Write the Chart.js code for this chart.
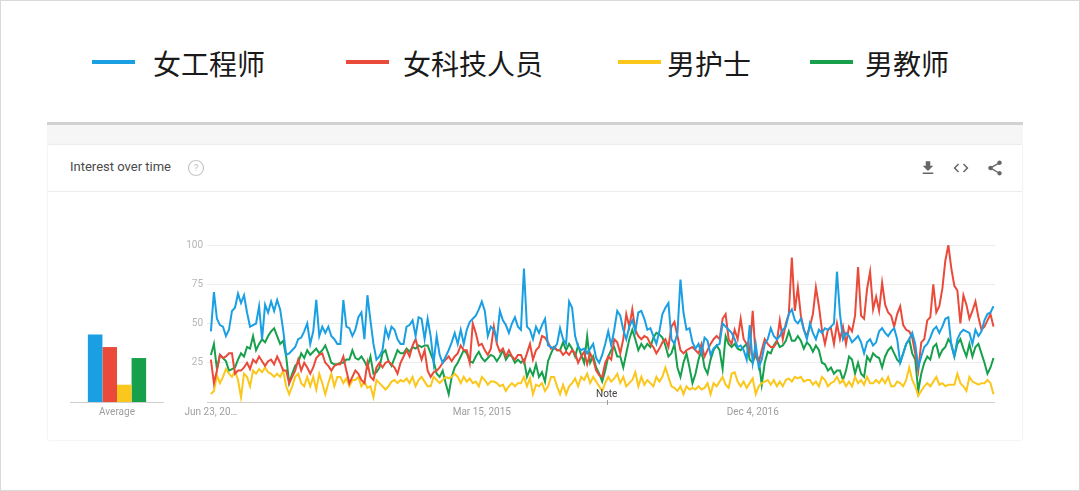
<!DOCTYPE html>
<html>
<head>
<meta charset="utf-8">
<script src="https://cdn.jsdelivr.net/npm/chart.js@4.4.1/dist/chart.umd.min.js"></script>
<style>
html, body { margin: 0; padding: 0; }
body { width: 1080px; height: 491px; position: relative; overflow: hidden; background: #fff; font-family: Roboto, "Noto Sans", sans-serif; }
.frame { position: absolute; left: 0; top: 0; width: 1078px; height: 489px; border: 1px solid #d9d9d9; }
.key { position: absolute; top: 43px; height: 40px; line-height: 40px; font-family: "Noto Sans CJK SC", sans-serif; font-size: 28px; color: #1a1a1a; white-space: nowrap; }
.swatch { position: absolute; top: 60px; width: 43px; height: 4px; }
.topline { position: absolute; left: 47px; top: 122px; width: 976px; height: 3px; background: #d2d2d2; }
.band { position: absolute; left: 47px; top: 125px; width: 976px; height: 20px; background: #f6f6f6; }
.card { position: absolute; left: 48px; top: 145px; width: 974px; height: 295px; background: #fff; box-shadow: 0 0 2px rgba(0,0,0,0.12); }
.head { position: absolute; left: 0; top: 0; width: 974px; height: 46px; border-bottom: 1px solid #ececec; }
.title { position: absolute; left: 22px; top: 14px; font-size: 13px; color: #4a4a4a; }
.icon { position: absolute; top: 14px; width: 18px; height: 18px; }
canvas { position: absolute; }
</style>
</head>
<body>
<div class="frame"></div>

<div class="swatch" style="left:92px;background:#1a9fe3"></div>
<div class="key" style="left:153px">女工程师</div>
<div class="swatch" style="left:346px;background:#ea4a3a"></div>
<div class="key" style="left:403px">女科技人员</div>
<div class="swatch" style="left:618px;background:#fbc71c"></div>
<div class="key" style="left:667px">男护士</div>
<div class="swatch" style="left:810px;background:#17a04c"></div>
<div class="key" style="left:865px">男教师</div>

<div class="topline"></div>
<div class="band"></div>
<div class="card">
  <div class="head">
    <div class="title">Interest over time</div>
    <svg class="icon" style="left:139px;top:14px" viewBox="0 0 24 24">
      <circle cx="12" cy="12" r="10" fill="none" stroke="#c8c8c8" stroke-width="1.6"/>
      <text x="12" y="16.5" text-anchor="middle" font-size="13" font-family="Roboto" fill="#c0c0c0">?</text>
    </svg>
    <svg class="icon" style="left:871px" viewBox="0 0 24 24"><path fill="#666" d="M19 9h-4V3H9v6H5l7 7 7-7zM5 18v2h14v-2H5z"/></svg>
    <svg class="icon" style="left:904px" viewBox="0 0 24 24"><path fill="#666" d="M9.4 16.6L4.8 12l4.6-4.6L8 6l-6 6 6 6 1.4-1.4zm5.2 0l4.6-4.6-4.6-4.6L16 6l6 6-6 6-1.4-1.4z"/></svg>
    <svg class="icon" style="left:938px" viewBox="0 0 24 24"><path fill="#666" d="M18 16.08c-.76 0-1.44.3-1.96.77L8.91 12.7c.05-.23.09-.46.09-.7s-.04-.47-.09-.7l7.05-4.11c.54.5 1.25.81 2.04.81 1.66 0 3-1.34 3-3s-1.34-3-3-3-3 1.34-3 3c0 .24.04.47.09.7L8.04 9.81C7.5 9.31 6.79 9 6 9c-1.66 0-3 1.34-3 3s1.34 3 3 3c.79 0 1.5-.31 2.04-.81l7.12 4.16c-.05.21-.08.43-.08.65 0 1.61 1.31 2.92 2.92 2.92 1.61 0 2.92-1.31 2.92-2.92s-1.31-2.92-2.92-2.92z"/></svg>
  </div>
</div>

<canvas id="avg" width="94" height="195" style="left:70px;top:235px"></canvas>
<canvas id="trend" width="835" height="195" style="left:160px;top:235px"></canvas>

<script>
// series names and colours (same order everywhere)
var names = ['女工程师', '女科技人员', '男护士', '男教师'];
var colors = ['#1a9fe3', '#ea4a3a', '#fbc71c', '#17a04c'];

var averages = [43, 35, 11, 28];

// x axis: weeks counted from Jun 23, 2013
var tickWeeks = [0, 90, 180];
var tickLabels = ['Jun 23, 20…', 'Mar 15, 2015', 'Dec 4, 2016'];
var yTicks = [0, 25, 50, 75, 100];
var noteWeek = 131.5;

// weekly interest values, one per week (261 weeks)
var engineer = [
  45,70,53,49,48,42,46,58,60,69, 63,68,57,48,49,50,61,40,62,57,
  64,58,65,59,46,30,31,33,35,40, 41,45,50,37,45,65,42,48,44,48,
  42,40,37,37,65,48,47,42,46,54, 57,40,68,52,37,27,29,33,47,41,
  48,46,40,37,37,48,49,52,42,54, 53,40,53,42,25,42,30,25,29,33,
  38,44,37,46,37,46,51,53,55,59, 64,58,42,48,46,40,58,52,49,44,
  50,54,48,46,85,48,46,40,48,44, 49,53,36,35,34,37,47,40,37,64,
  60,42,35,33,34,31,34,37,28,25, 30,37,45,36,46,58,55,46,40,48,
  52,45,57,58,53,46,47,42,37,45, 56,60,63,40,37,44,78,57,46,47,
  38,34,37,31,41,39,30,34,36,37, 50,48,46,44,40,35,36,33,27,49,
  25,37,22,27,37,40,47,42,40,42, 46,48,56,59,52,50,53,46,40,50,
  44,40,46,44,47,46,48,50,83,56, 40,44,42,38,40,42,38,31,38,40,
  36,38,45,47,44,42,45,47,40,25, 31,37,40,44,37,22,29,35,37,41,
  46,48,44,48,53,54,36,29,40,44, 46,45,44,37,46,42,45,52,56,57,
  61
];
var scientist = [
  27,12,20,30,28,29,31,31,18,20, 20,22,25,21,27,25,29,26,23,26,
  27,24,29,25,20,20,12,16,20,27, 20,25,22,18,22,28,30,31,25,23,
  20,23,24,24,29,20,12,16,20,18, 14,12,25,16,14,22,25,22,25,26,
  24,22,18,25,29,33,29,36,40,33, 27,33,20,16,19,20,22,25,27,29,
  26,29,31,36,33,33,25,50,44,36, 37,33,30,34,48,37,32,34,29,33,
  29,27,30,30,25,31,37,27,33,35, 42,41,38,34,35,33,33,30,32,30,
  33,31,25,29,32,24,31,27,20,17, 16,25,29,27,40,38,31,40,56,48,
  59,46,42,40,42,41,37,35,31,34, 38,40,35,48,51,42,33,31,33,34,
  35,33,31,37,29,33,37,40,42,40, 53,56,40,37,46,40,53,40,37,32,
  58,29,25,33,40,37,35,35,38,52, 40,50,56,92,58,73,55,46,42,48,
  56,73,61,46,37,46,47,37,50,40, 48,37,48,45,55,86,55,53,72,83,
  59,67,58,76,62,57,55,48,56,61, 49,46,45,41,31,20,38,40,52,54,
  75,57,61,72,90,100,85,74,71,50, 68,62,53,58,64,54,46,48,52,56,
  48
];
var nurse = [
  5,7,17,12,16,21,18,16,20,14, 3,18,16,10,20,18,21,19,22,19,
  18,16,18,16,20,10,5,10,16,18, 12,10,16,10,16,8,18,12,5,12,
  18,10,16,16,12,15,10,14,14,16, 10,13,9,10,3,14,12,10,8,10,
  13,14,12,14,13,15,12,16,10,14, 16,13,10,10,16,14,12,14,16,15,
  16,18,16,12,16,13,15,12,13,10, 16,14,11,13,13,12,10,11,7,10,
  12,10,12,12,16,10,15,5,11,10, 12,7,10,16,16,10,5,11,5,10,
  12,15,10,16,14,18,12,16,13,10, 7,12,16,13,15,18,12,16,10,12,
  14,19,10,16,11,14,12,10,16,13, 16,22,16,10,9,7,10,5,10,8,
  9,8,10,8,9,12,5,12,10,13, 16,11,9,18,19,13,10,13,9,12,
  15,5,10,12,13,14,11,14,10,13, 10,14,15,13,16,15,16,13,14,14,
  11,13,10,16,14,10,12,13,16,12, 14,10,13,10,16,12,14,11,16,12,
  12,14,12,15,12,16,10,10,13,12, 10,14,22,14,10,4,7,10,12,10,
  13,16,11,12,10,11,11,11,18,12, 10,7,16,13,12,11,12,12,14,12,
  5
];
var teacher = [
  30,37,21,30,28,26,20,21,22,27, 31,29,35,34,42,33,37,40,38,42,
  45,47,42,37,39,29,12,18,23,25, 31,28,33,30,32,34,31,33,36,31,
  25,24,24,25,25,27,27,33,28,27, 29,26,22,29,18,19,22,31,33,26,
  23,28,33,31,31,34,32,35,34,36, 35,36,36,31,26,18,16,20,12,5,
  16,22,25,29,33,31,26,25,29,32, 28,26,28,30,29,26,29,33,27,30,
  29,25,27,25,27,16,21,17,24,16, 19,13,26,31,35,33,33,38,33,37,
  34,29,36,30,25,42,25,29,22,18, 13,20,29,33,35,29,29,22,31,40,
  46,40,33,37,34,37,35,41,44,43, 41,36,29,31,37,22,16,25,31,22,
  12,18,27,33,22,18,27,33,36,33, 21,42,37,35,37,34,33,35,37,27,
  25,31,27,11,25,32,31,36,39,35, 36,39,45,39,39,42,39,34,38,36,
  32,36,33,25,24,20,22,18,20,20, 14,20,29,27,18,25,18,16,29,26,
  31,29,28,22,29,33,35,31,27,25, 31,37,40,31,27,7,18,25,29,27,
  35,37,29,33,35,40,37,29,37,40, 34,29,37,29,35,37,31,25,18,22,
  28
];

var series = [engineer, scientist, nurse, teacher];

function toPoints(arr) {
  return arr.map(function (v, i) { return { x: i, y: v }; });
}

var tickFont = { family: 'Roboto', size: 10 };

// small "Average" bar chart on the left
new Chart(document.getElementById('avg'), {
  type: 'bar',
  data: {
    labels: ['Average'],
    datasets: names.map(function (n, i) {
      return { label: n, data: [averages[i]], backgroundColor: colors[i], borderWidth: 0,
               categoryPercentage: 0.62, barPercentage: 1 };
    })
  },
  options: {
    responsive: false,
    animation: false,
    layout: { padding: { top: 10 } },
    plugins: { legend: { display: false }, tooltip: { enabled: false } },
    scales: {
      x: {
        afterFit: function (s) { s.height = 28; },
        grid: { display: false, drawTicks: false },
        border: { color: '#cfcfcf' },
        ticks: { padding: 4, color: '#9e9e9e', font: tickFont }
      },
      y: { display: false, min: 0, max: 100 }
    }
  }
});

// the "Note" marker Google Trends puts on the time axis
var notePlugin = {
  id: 'note',
  afterDatasetsDraw: function (chart) {
    var ctx = chart.ctx;
    var x = chart.scales.x.getPixelForValue(noteWeek);
    var y0 = chart.scales.y.getPixelForValue(0);
    ctx.save();
    ctx.strokeStyle = '#9e9e9e';
    ctx.lineWidth = 1;
    ctx.beginPath();
    ctx.moveTo(Math.round(x) + 0.5, y0 - 2);
    ctx.lineTo(Math.round(x) + 0.5, y0 + 3);
    ctx.stroke();
    ctx.fillStyle = '#444';
    ctx.font = '10px Roboto';
    ctx.textAlign = 'center';
    ctx.textBaseline = 'bottom';
    ctx.fillText('Note', x, y0 - 3);
    ctx.restore();
  }
};

new Chart(document.getElementById('trend'), {
  type: 'line',
  data: {
    datasets: names.map(function (n, i) {
      return { label: n, data: toPoints(series[i]), borderColor: colors[i], borderWidth: 2,
               pointRadius: 0, tension: 0, fill: false };
    })
  },
  options: {
    responsive: false,
    animation: false,
    layout: { padding: { top: 10 } },
    plugins: { legend: { display: false }, tooltip: { enabled: false } },
    scales: {
      x: {
        type: 'linear',
        min: -1.3,
        max: 260.5,
        afterBuildTicks: function (s) { s.ticks = tickWeeks.map(function (v) { return { value: v }; }); },
        afterFit: function (s) { s.height = 28; },
        grid: { display: false, drawTicks: false },
        border: { display: false },
        ticks: {
          padding: 4, color: '#9e9e9e', font: tickFont, maxRotation: 0, autoSkip: false,
          callback: function (v, i) { return tickLabels[i]; }
        }
      },
      y: {
        min: 0,
        max: 100,
        afterBuildTicks: function (s) { s.ticks = yTicks.map(function (v) { return { value: v }; }); },
        afterFit: function (s) { s.width = 47; },
        grid: {
          drawTicks: false,
          color: function (c) { return c.tick && c.tick.value === 0 ? '#cfcfcf' : '#ececec'; }
        },
        border: { display: false },
        ticks: {
          padding: 4, color: '#b5b5b5', font: tickFont,
          callback: function (v) { return v === 0 ? '' : v; }
        }
      }
    }
  },
  plugins: [notePlugin]
});
</script>
</body>
</html>
